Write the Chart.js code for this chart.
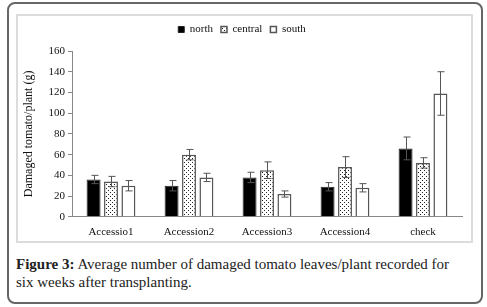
<!DOCTYPE html>
<html>
<head>
<meta charset="utf-8">
<script src="https://cdn.jsdelivr.net/npm/chart.js@4/dist/chart.umd.min.js"></script>
<style>
  body { margin: 0; background: #fff; width: 487px; height: 307px; position: relative; overflow: hidden; }
  #frame { position: absolute; left: 7px; top: 2px; width: 472px; height: 298px; border: 2px solid #666; border-radius: 8px; }
  #plotbox { position: absolute; left: 16px; top: 14px; width: 453px; height: 225px; border: 2px solid #dcdcdc; }
  #caption { position: absolute; left: 16px; top: 255px; width: 445px; font-family: "Liberation Serif", serif; font-size: 15px; line-height: 18px; color: #222; }
</style>
</head>
<body>
<div id="frame"></div>
<div id="plotbox"><canvas id="myChart" width="453" height="225"></canvas></div>
<div id="caption"><b>Figure 3:</b> Average number of damaged tomato leaves/plant recorded for six weeks after transplanting.</div>
<script>
  // categories and series
  const categories = ['Accessio1', 'Accession2', 'Accession3', 'Accession4', 'check'];
  const north = [36, 30, 38, 29, 66];
  const central = [34, 60, 45, 48, 52];
  const south = [30, 38, 22, 28, 119];
  // error bars (half-length)
  const northErr = [4, 5, 5, 4, 11];
  const centralErr = [5, 5, 8, 10, 5];
  const southErr = [5, 4, 3, 4, 21];
  const yTicks = [0, 20, 40, 60, 80, 100, 120, 140, 160];

  Chart.defaults.font.family = '"Liberation Serif", "Times New Roman", serif';

  // dotted fill for the "central" series
  function dotPattern() {
    var c = document.createElement('canvas');
    c.width = 4; c.height = 4;
    var x = c.getContext('2d');
    x.fillStyle = '#fff';
    x.fillRect(0, 0, 4, 4);
    x.fillStyle = '#222';
    x.fillRect(0, 0, 1, 1);
    x.fillRect(2, 2, 1, 1);
    return x.createPattern(c, 'repeat');
  }

  // draws the error bars on top of each bar
  const errorBars = {
    id: 'errorBars',
    afterInit(chart) {
      // leave a bit more room under the legend
      var lg = chart.legend, fit = lg.fit;
      lg.fit = function() { fit.call(this); this.height += 6; };
    },
    afterDatasetsDraw(chart) {
      var ctx = chart.ctx;
      var y = chart.scales.y;
      ctx.save();
      ctx.strokeStyle = '#555';
      ctx.lineWidth = 1;
      chart.data.datasets.forEach(function(ds, i) {
        var meta = chart.getDatasetMeta(i);
        meta.data.forEach(function(bar, j) {
          var v = ds.data[j], e = ds.errors[j];
          var x = Math.round(bar.x) + 0.5;
          var top = y.getPixelForValue(v + e), bot = y.getPixelForValue(v - e);
          ctx.beginPath();
          ctx.moveTo(x, top); ctx.lineTo(x, bot);
          ctx.moveTo(x - 3, top); ctx.lineTo(x + 4, top);
          ctx.moveTo(x - 3, bot); ctx.lineTo(x + 4, bot);
          ctx.stroke();
        });
      });
      ctx.restore();
    }
  };

  var canvas = document.getElementById('myChart');
  var setup = {
    type: 'bar',
    data: {
      labels: categories,
      datasets: [
        { label: 'north', data: north, errors: northErr, backgroundColor: '#000', borderColor: '#222', borderWidth: 1 },
        { label: 'central', data: central, errors: centralErr, backgroundColor: dotPattern(), borderColor: '#555', borderWidth: 1.5 },
        { label: 'south', data: south, errors: southErr, backgroundColor: '#fff', borderColor: '#555', borderWidth: 1.5 }
      ]
    },
    options: {
      responsive: false,
      animation: false,
      categoryPercentage: 0.67,
      barPercentage: 0.8,
      layout: { padding: { left: 4, right: 9, top: 0, bottom: 1 } },
      plugins: {
        legend: {
          position: 'top',
          labels: {
            boxWidth: 6, boxHeight: 6, padding: 8, color: '#111',
            font: { size: 11 }
          }
        },
        tooltip: { enabled: false }
      },
      scales: {
        x: {
          grid: { display: false },
          border: { display: true, color: '#888', width: 1 },
          ticks: { color: '#111', padding: 1, font: { size: 11 }, maxRotation: 0 }
        },
        y: {
          min: 0, max: 160,
          afterBuildTicks: function(s) { s.ticks = yTicks.map(function(v) { return { value: v }; }); },
          afterFit: function(s) { s.width = 50; },
          grid: { drawOnChartArea: false, tickLength: 4, color: '#888' },
          border: { display: true, color: '#888', width: 1 },
          ticks: { color: '#111', padding: 3, font: { size: 11 } },
          title: { display: true, text: 'Damaged tomato/plant (g)', color: '#111', padding: 0, font: { size: 12 } }
        }
      }
    },
    plugins: [errorBars]
  };
  var chart = new Chart(canvas, setup);
</script>
</body>
</html>
